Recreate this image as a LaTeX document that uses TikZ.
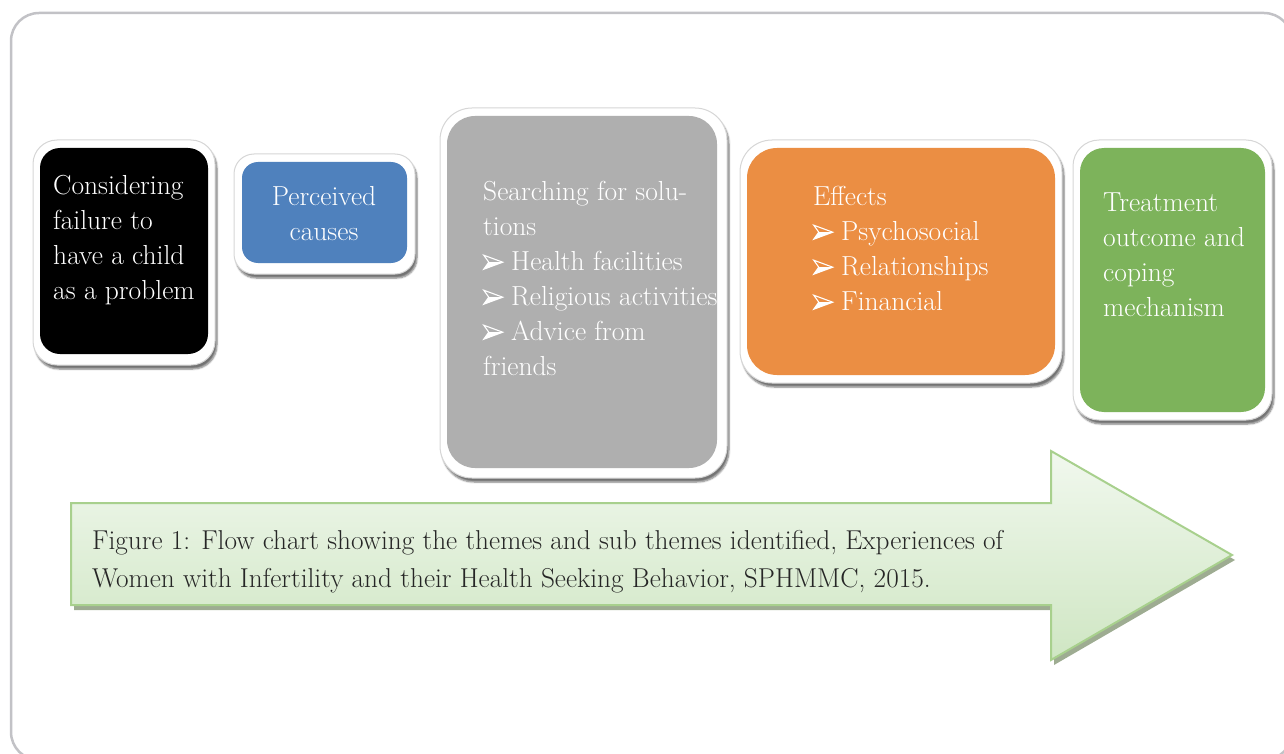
\documentclass[tikz,border=0pt]{standalone}
\usepackage{fontspec}
\usetikzlibrary{shadows.blur}

\definecolor{framegray}{HTML}{C2C2C6}
\definecolor{rimline}{HTML}{D6D6D6}
\definecolor{causeblue}{HTML}{4F81BD}
\definecolor{searchgray}{HTML}{AFAFAF}
\definecolor{effectorange}{HTML}{EB8E43}
\definecolor{treatgreen}{HTML}{7DB35B}
\definecolor{arrowline}{HTML}{A8D08D}
\definecolor{arrowtop}{HTML}{F1F8EE}
\definecolor{arrowbottom}{HTML}{CFE6C3}
\definecolor{arrowshadow}{HTML}{8D9E7F}
\definecolor{captiontext}{HTML}{262626}

% outlined arrowhead bullet, drawn as a small inline picture
\newcommand{\bul}{\makebox[28pt][l]{\tikz[x=1pt,y=1pt,baseline=0pt]{%
  \fill[white] (0,1) -- (19,8) -- (5,8) -- cycle;
  \draw[white, line width=1.1pt, line join=miter] (0,1) -- (19,8) -- (0,15) -- (5,8) -- cycle;
  \draw[white, line width=0.8pt] (5,8) -- (19,8);}}}

\tikzset{
  rim/.style={anchor=north west, inner sep=0pt, outer sep=0pt, fill=white,
    draw=rimline, line width=1pt,
    blur shadow={shadow xshift=2pt, shadow yshift=-4pt, shadow blur steps=6, shadow opacity=55}},
  panel/.style={anchor=north west, inner sep=0pt, outer sep=0pt, fill=#1, draw=none},
  label/.style={anchor=north west, inner sep=0pt, text=white, align=left,
    font=\fontsize{27.5}{35}\selectfont},
  caption/.style={anchor=north west, inner sep=0pt, text=captiontext, align=left,
    font=\fontsize{27.3}{38}\selectfont}
}

\begin{document}
\begin{tikzpicture}[x=1pt,y=-1pt]
\useasboundingbox (0,0) rectangle (1284,754);

% outer frame
\draw[framegray, line width=2.5pt, rounded corners=28pt] (11,13) rectangle (1292,760);

% theme 1
\node[rim, minimum width=182pt, minimum height=225pt, rounded corners=24pt] (rimA) at (33,140) {};
\node[panel=black, minimum width=168pt, minimum height=206pt, rounded corners=20pt] (boxA) at (40,148) {};
\node[label] (textA) at (53,174) {\rule{0pt}{20pt}Considering\\failure to\\have a child\\as a problem};

% theme 2
\node[rim, minimum width=181pt, minimum height=120pt, rounded corners=20pt] (rimB) at (234,154) {};
\node[panel=causeblue, minimum width=165pt, minimum height=101pt, rounded corners=16pt] (boxB) at (242,162) {};
\node[label, anchor=north, align=center] (textB) at (324,185) {\rule{0pt}{20pt}Perceived\\causes};

% theme 3
\node[rim, minimum width=287pt, minimum height=370pt, rounded corners=32pt] (rimC) at (440,108) {};
\node[panel=searchgray, minimum width=270pt, minimum height=352pt, rounded corners=28pt] (boxC) at (447,116) {};
\node[label] (textC) at (483,180) {\rule{0pt}{20pt}Searching for solu-\\tions\\\bul Health facilities\\\bul Religious activities\\\bul Advice from\\friends};

% theme 4
\node[rim, minimum width=322pt, minimum height=243pt, rounded corners=32pt] (rimD) at (740,140) {};
\node[panel=effectorange, minimum width=308pt, minimum height=227pt, rounded corners=30pt] (boxD) at (747,148) {};
\node[label] (textD) at (813,185) {\rule{0pt}{20pt}Effects\\\bul Psychosocial\\\bul Relationships\\\bul Financial};

% theme 5
\node[rim, minimum width=199pt, minimum height=280pt, rounded corners=26pt] (rimE) at (1073,140) {};
\node[panel=treatgreen, minimum width=185pt, minimum height=264pt, rounded corners=24pt] (boxE) at (1080,148) {};
\node[label] (textE) at (1103,191) {\rule{0pt}{20pt}Treatment\\outcome and\\coping\\mechanism};

% flow arrow with its shadow
\fill[arrowshadow, opacity=0.85]
  (74,508) -- (1054,508) -- (1054,456) -- (1235,560) -- (1054,665) -- (1054,610) -- (74,610) -- cycle;
\draw[arrowline, line width=2pt, top color=arrowtop, bottom color=arrowbottom]
  (71,503) -- (1051,503) -- (1051,451) -- (1232,555) -- (1051,660) -- (1051,605) -- (71,605) -- cycle;
\node[caption] (captionText) at (92,530) {\rule{0pt}{19pt}Figure 1: Flow chart showing the themes and sub themes identified, Experiences of\\Women with Infertility and their Health Seeking Behavior, SPHMMC, 2015.};
\end{tikzpicture}
\end{document}
